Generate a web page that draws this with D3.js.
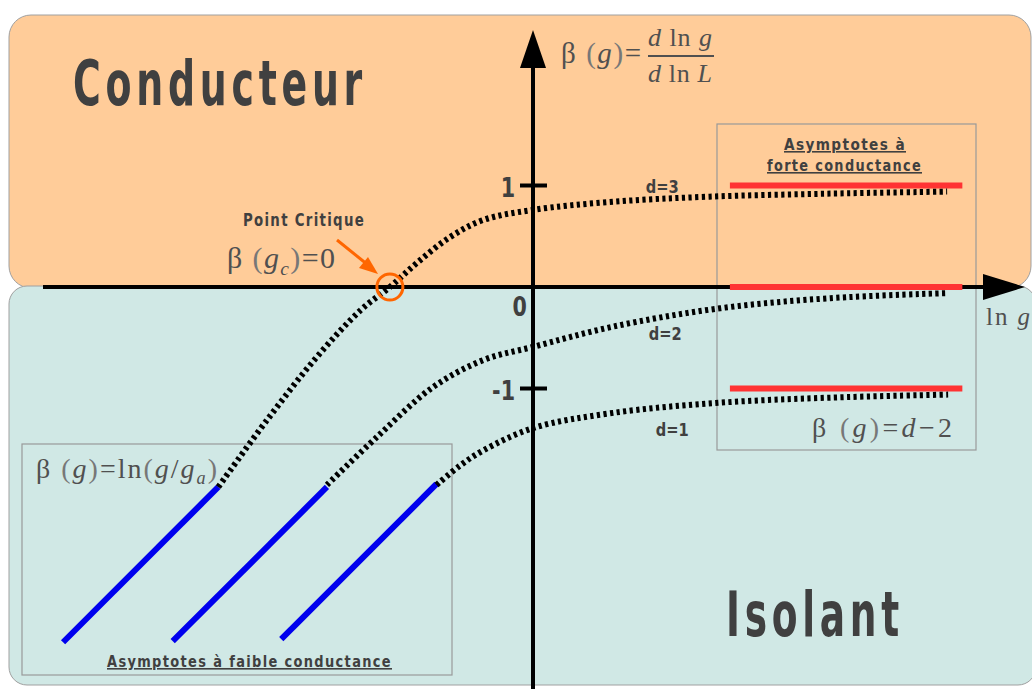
<!DOCTYPE html>
<html><head><meta charset="utf-8">
<script src="https://cdn.jsdelivr.net/npm/d3@7"></script>
<style>
html,body{margin:0;padding:0;background:#fff;}
svg{display:block;}
.lbl{font-family:"Ubuntu Condensed","DejaVu Sans Condensed","Liberation Sans Narrow",sans-serif;font-weight:bold;fill:#404040;}
.math{font-family:"Liberation Serif","DejaVu Serif",serif;fill:#505050;}
</style></head>
<body>
<script>
// ---- data ----
const betaTicks = [1, -1];
const zeroTick = [0];
const dims = [3, 2, 1];
// asymptotes at strong conductance: beta = d - 2
const strongLevels = [1, 0, -1];
const strongRange = [1.94, 4.23];
// asymptotes at weak conductance: beta = ln g - ln g_a
const lnGa = [-1.13, -0.06, 0.99];
const weakStart = [-4.63, -3.55, -2.48];
const weakEnd = [-3.10, -2.03, -0.95];
// crossover curves (ln g, beta)
const curveD3 = [[-3.10,-1.97],[-2.62,-1.31],[-2.13,-0.69],[-1.70,-0.23],[-1.41,0],[-1.14,0.24],[-0.82,0.49],[-0.49,0.66],[0,0.76],[0.79,0.84],[1.74,0.89],[2.93,0.92],[4.08,0.94]];
const curveD2 = [[-2.03,-1.95],[-1.54,-1.48],[-0.99,-0.99],[-0.49,-0.72],[0,-0.59],[0.79,-0.39],[1.84,-0.21],[2.93,-0.11],[4.09,-0.06]];
const curveD1 = [[-0.95,-1.95],[-0.72,-1.76],[-0.49,-1.61],[0,-1.39],[0.79,-1.24],[1.84,-1.14],[2.93,-1.09],[4.09,-1.06]];
const curves = [curveD3, curveD2, curveD1];
const dLabels = ["d=3", "d=2", "d=1"];
const dLabelPos = [[1.11, 0.93], [1.14, -0.52], [1.21, -1.47]];
const critical = [-1.41, 0];

// ---- layout ----
const W = 1032, H = 689;
const svg = d3.select("body").append("svg").attr("width", W).attr("height", H);
const x = d3.scaleLinear().domain([-5, 4.9]).range([533 - 5*101.5, 533 + 4.9*101.5]);
const y = d3.scaleLinear().domain([-4, 2.7]).range([287 + 4*101.5, 287 - 2.7*101.5]);

const x0 = x(0), y0 = y(0);
// background regions
svg.append("rect").attr("x", 9).attr("y", 15).attr("width", 1031 - 9).attr("height", y0 + 1 - 15)
  .attr("rx", 22).attr("fill", "#ffcc99").attr("stroke", "#a0a0a0").attr("stroke-width", 1);
svg.append("rect").attr("x", 9).attr("y", y0 - 1).attr("width", 1036 - 9).attr("height", 685 - y0 + 1)
  .attr("rx", 18).attr("fill", "#d0e8e5").attr("stroke", "#a0a0a0").attr("stroke-width", 1);

// boxes
svg.append("rect").attr("x", 717).attr("y", 124).attr("width", 976 - 717).attr("height", 450 - 124)
  .attr("fill", "none").attr("stroke", "#999").attr("stroke-width", 1.2);
svg.append("rect").attr("x", 22).attr("y", 444).attr("width", 452 - 22).attr("height", 675 - 444)
  .attr("fill", "none").attr("stroke", "#999").attr("stroke-width", 1.2);

// axes
const axisG = svg.append("g");
axisG.append("line").attr("x1", 43).attr("x2", 990).attr("y1", y0).attr("y2", y0).attr("stroke", "#000").attr("stroke-width", 4);
axisG.append("path").attr("d", `M983,${y0-13} L1025,${y0} L983,${y0+13} Z`).attr("fill", "#000");
axisG.append("line").attr("x1", x0).attr("x2", x0).attr("y1", 689).attr("y2", 62).attr("stroke", "#000").attr("stroke-width", 4);
axisG.append("path").attr("d", `M${x0-13},68 L${x0},30 L${x0+13},68 Z`).attr("fill", "#000");
axisG.selectAll(".tk").data(betaTicks).enter().append("line")
  .attr("x1", x0 - 13).attr("x2", x0 + 14).attr("y1", d => y(d)).attr("y2", d => y(d))
  .attr("stroke", "#000").attr("stroke-width", 4);
axisG.selectAll(".tl").data(betaTicks).enter().append("text").attr("class", "lbl")
  .attr("x", x0 - 18).attr("y", d => y(d) + 12).attr("text-anchor", "end").attr("font-size", 27)
  .attr("transform", d => `translate(${(x0-18)*0.15},0) scale(0.85,1)`)
  .text(d => d < 0 ? "-" + Math.abs(d) : d);
axisG.selectAll(".tz").data(zeroTick).enter().append("text").attr("class", "lbl")
  .attr("x", x0 - 6).attr("y", d => y(d) + 29).attr("text-anchor", "end").attr("font-size", 27)
  .attr("transform", `translate(${(x0-6)*0.15},0) scale(0.85,1)`)
  .text(d => d);

// red strong-conductance asymptotes
svg.selectAll(".red").data(strongLevels).enter().append("line")
  .attr("x1", x(strongRange[0])).attr("x2", x(strongRange[1]))
  .attr("y1", d => y(d)).attr("y2", d => y(d)).attr("stroke", "#ff3333").attr("stroke-width", 6);

// blue weak-conductance asymptotes
svg.selectAll(".blue").data(lnGa).enter().append("line")
  .attr("x1", (d, i) => x(weakStart[i])).attr("y1", (d, i) => y(weakStart[i] - d))
  .attr("x2", (d, i) => x(weakEnd[i])).attr("y2", (d, i) => y(weakEnd[i] - d))
  .attr("stroke", "#0000ee").attr("stroke-width", 6);

// dotted curves
const line = d3.line().x(d => x(d[0])).y(d => y(d[1])).curve(d3.curveCatmullRom.alpha(0.5));
svg.selectAll(".crv").data(curves).enter().append("path")
  .attr("d", line).attr("fill", "none").attr("stroke", "#000").attr("stroke-width", 6)
  .attr("stroke-dasharray", "3.2,3.4");

// d labels
svg.selectAll(".dl").data(dLabels).enter().append("text").attr("class", "lbl")
  .attr("x", (d, i) => x(dLabelPos[i][0])).attr("y", (d, i) => y(dLabelPos[i][1]))
  .attr("font-size", 17).attr("textLength", 33).attr("lengthAdjust", "spacingAndGlyphs").text(d => d);

// critical point
svg.append("circle").attr("cx", x(critical[0])).attr("cy", y(critical[1])).attr("r", 13)
  .attr("fill", "none").attr("stroke", "#ff6600").attr("stroke-width", 3);
svg.append("line").attr("x1", 337).attr("y1", 240).attr("x2", 368).attr("y2", 265)
  .attr("stroke", "#ff6600").attr("stroke-width", 3);
svg.append("path").attr("d", "M378,274 L359,268 L368,257 Z").attr("fill", "#ff6600");

function lbl(xp, yp, size, len, txt, under, ls) {
  const t = svg.append("text").attr("class", "lbl").attr("x", xp).attr("y", yp)
    .attr("font-size", size).attr("textLength", len).attr("lengthAdjust", "spacingAndGlyphs").text(txt);
  if (under) t.attr("text-decoration", "underline");
  if (ls) t.attr("letter-spacing", ls);
  return t;
}
lbl(243, 226, 17, 122, "Point Critique", false, 1.5);
lbl(73, 105, 62, 294, "Conducteur", false, 7);
lbl(726, 636, 62, 178, "Isolant", false, 7);
lbl(784, 150, 16, 122, "Asymptotes à ", true, 1.5);
lbl(767, 171, 16, 155, "forte conductance", true, 1.5);
lbl(107, 667, 16, 285, "Asymptotes à faible conductance", true, 1.5);

// math helper
function math(xp, yp, size, parts, len) {
  const t = svg.append("text").attr("class", "math").attr("x", xp).attr("y", yp).attr("font-size", size);
  if (len) t.attr("textLength", len).attr("lengthAdjust", "spacing");
  parts.forEach(p => {
    const s = t.append("tspan").text(p.t);
    if (p.i) s.attr("font-style", "italic");
    if (p.sub) s.attr("font-size", size * 0.65).attr("dy", size * 0.22);
    if (p.up) s.attr("dy", -size * 0.22);
    if (p.thin) s.attr("fill", "#777");
  });
  return t;
}
math(561, 63, 29, [{t:"β "},{t:"(",thin:1},{t:"g",i:1},{t:")",thin:1},{t:"="}], 80);
math(648, 46, 26, [{t:"d",i:1},{t:" ln "},{t:"g",i:1}], 64);
svg.append("line").attr("x1", 648).attr("x2", 714).attr("y1", 56).attr("y2", 56).attr("stroke", "#505050").attr("stroke-width", 2);
math(648, 82, 26, [{t:"d",i:1},{t:" ln "},{t:"L",i:1}], 64);

math(227, 268, 30, [{t:"β "},{t:"(",thin:1},{t:"g",i:1},{t:"c",i:1,sub:1},{t:")",thin:1,up:1},{t:"=0"}], 108);
math(812, 437, 28, [{t:"β "},{t:"(",thin:1},{t:"g",i:1},{t:")",thin:1},{t:"="},{t:"d",i:1},{t:"−2"}], 140);
math(36, 478, 28, [{t:"β "},{t:"(",thin:1},{t:"g",i:1},{t:")",thin:1},{t:"=ln"},{t:"(",thin:1},{t:"g",i:1},{t:"/"},{t:"g",i:1},{t:"a",i:1,sub:1},{t:")",thin:1,up:1}], 181);
math(986, 325, 25, [{t:"ln "},{t:"g",i:1}], 44);
</script>
</body></html>
